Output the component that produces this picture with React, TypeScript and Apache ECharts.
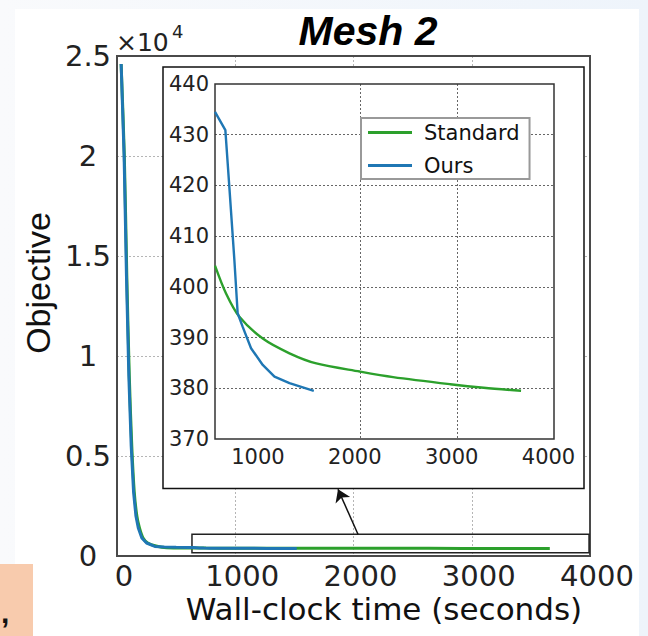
import React, { useEffect, useRef } from 'react';
import * as echarts from 'echarts';

// ---- data ----
const mainXTicks = [0, 1000, 2000, 3000, 4000];
const mainYTickLabels: Record<number, string> = { 0: '0', 5000: '0.5', 10000: '1', 15000: '1.5', 20000: '2', 25000: '2.5' };
const insetXTicks = [1000, 2000, 3000, 4000];
const insetYTicks = [370, 380, 390, 400, 410, 420, 430, 440];

const stdEarly = [[35, 24600], [62, 20000], [83, 14000], [104, 9000], [125, 5500], [146, 3200], [168, 2000], [190, 1400], [220, 900], [260, 650], [330, 500], [420, 412]];
const stdTail = [[500, 404.2], [614, 398.7], [752, 394.1], [993, 389.8], [1269, 386.9], [1546, 384.9], [1994, 383.3], [2339, 382.2], [2929, 380.8], [3274, 380.1], [3660, 379.5]];
const oursEarly = [[35, 24600], [60, 20000], [80, 14000], [100, 9000], [120, 5500], [140, 3200], [160, 2000], [180, 1400], [210, 900], [250, 650], [320, 480], [400, 450]];
const oursTail = [[500, 434.5], [607, 430.9], [648, 419.7], [700, 405.3], [734, 394.8], [786, 392.1], [872, 387.9], [993, 384.6], [1114, 382.3], [1269, 381.0], [1520, 379.5]];

const zoomBox = [[634, 1085], [3992, 160]];
const arrowLine = [[2038, 1085], [1869, 3335]];

const GREEN = '#2ca02c';
const BLUE = '#1f77b4';
const FONT = "'DejaVu Sans'";

export default function App() {
  const ref = useRef<HTMLDivElement>(null);
  useEffect(() => {
    const chart = echarts.init(ref.current!, null, { renderer: 'svg' });
    const stdAll = stdEarly.concat(stdTail);
    const oursAll = oursEarly.concat(oursTail);
    const option: any = {
      animation: false,
      grid: [
        { left: 117, top: 56, width: 473, height: 500, show: true, borderColor: '#4a4a4a', borderWidth: 2, backgroundColor: 'transparent', z: 1 },
        { left: 215, top: 84, width: 339, height: 355, show: true, borderColor: '#333', borderWidth: 1.5, backgroundColor: 'transparent', z: 6 },
      ],
      xAxis: [
        {
          gridIndex: 0, type: 'value', min: 0, max: 4000, interval: 1000, z: 0,
          axisLine: { show: false }, axisTick: { show: false },
          splitLine: { show: true, showMinLine: false, showMaxLine: false, lineStyle: { color: '#b5b5b5', type: [2, 2], width: 1 } },
          axisLabel: {
            fontFamily: FONT, fontSize: 29, color: '#222', margin: 5, padding: [0, 0, 0, 14],
            formatter: (v: number) => (mainXTicks.includes(v) ? String(v) : ''),
          },
        },
        {
          gridIndex: 1, type: 'value', min: 500, max: 4000, z: 5,
          axisLine: { show: false },
          axisTick: { show: false, customValues: insetXTicks },
          splitLine: { show: true, showMinLine: false, showMaxLine: false, lineStyle: { color: '#666', type: [2, 2], width: 1 } },
          axisLabel: {
            customValues: insetXTicks, fontFamily: FONT, fontSize: 21, color: '#222', margin: 7, padding: [0, 11, 0, 0],
            formatter: (v: number) => String(v),
          },
        },
      ],
      yAxis: [
        {
          gridIndex: 0, type: 'value', min: 0, max: 25000, interval: 5000, z: 0,
          axisLine: { show: false }, axisTick: { show: false },
          splitLine: { show: true, showMinLine: false, showMaxLine: false, lineStyle: { color: '#b5b5b5', type: [2, 2], width: 1 } },
          axisLabel: {
            fontFamily: FONT, fontSize: 29, color: '#222', margin: 29, align: 'center',
            formatter: (v: number) => mainYTickLabels[v] ?? '',
          },
        },
        {
          gridIndex: 1, type: 'value', min: 370, max: 440, interval: 10, z: 5,
          axisLine: { show: false }, axisTick: { show: false },
          splitLine: { show: true, showMinLine: false, showMaxLine: false, lineStyle: { color: '#666', type: [2, 2], width: 1 } },
          axisLabel: {
            fontFamily: FONT, fontSize: 21, color: '#222', margin: 6,
            formatter: (v: number) => (insetYTicks.includes(v) ? String(v) : ''),
          },
        },
      ],
      legend: {
        data: ['Standard', 'Ours'],
        orient: 'vertical', left: 361, top: 118, z: 10,
        padding: [4, 10, 3, 7], itemGap: 12, itemWidth: 44, itemHeight: 3,
        icon: 'rect',
        backgroundColor: '#fff', borderColor: '#999', borderWidth: 2,
        textStyle: { fontFamily: FONT, fontSize: 21, color: '#111', lineHeight: 21, padding: [0, 0, 0, 7] },
      },
      series: [
        {
          name: 'Standard', type: 'line', xAxisIndex: 0, yAxisIndex: 0, data: stdAll,
          showSymbol: false, symbol: 'none', z: 2, smooth: 0.3,
          lineStyle: { color: GREEN, width: 3 }, itemStyle: { color: GREEN },
        },
        {
          name: 'Ours', type: 'line', xAxisIndex: 0, yAxisIndex: 0, data: oursAll,
          showSymbol: false, symbol: 'none', z: 2,
          lineStyle: { color: BLUE, width: 3 }, itemStyle: { color: BLUE },
          markArea: {
            silent: true,
            itemStyle: { color: 'rgba(0,0,0,0)', borderColor: '#222', borderWidth: 1.5 },
            data: [[{ coord: zoomBox[0] }, { coord: zoomBox[1] }]],
          },
          markLine: {
            silent: true, symbol: ['none', 'arrow'], symbolSize: 12,
            lineStyle: { color: '#111', width: 1.5, type: 'solid' },
            label: { show: false },
            data: [[{ coord: arrowLine[0] }, { coord: arrowLine[1] }]],
          },
        },
        {
          name: 'Standard', type: 'line', xAxisIndex: 1, yAxisIndex: 1, data: stdTail,
          showSymbol: false, symbol: 'none', z: 7, clip: true, smooth: 0.3,
          lineStyle: { color: GREEN, width: 2.4 }, itemStyle: { color: GREEN },
        },
        {
          name: 'Ours', type: 'line', xAxisIndex: 1, yAxisIndex: 1, data: oursTail,
          showSymbol: false, symbol: 'none', z: 7, clip: true,
          lineStyle: { color: BLUE, width: 2.4 }, itemStyle: { color: BLUE },
        },
      ],
      graphic: [
        { type: 'rect', z: 3, shape: { x: 163, y: 67, width: 421, height: 421.5 }, style: { fill: '#fff', stroke: '#111', lineWidth: 1.5 } },
        { type: 'text', x: 368, y: 31, style: { text: 'Mesh 2', fontFamily: "'Liberation Sans'", fontWeight: 'bold', fontStyle: 'italic', fontSize: 41, fill: '#000', align: 'center', verticalAlign: 'middle' } },
        { type: 'text', x: 116, y: 42, style: { text: '×10', fontFamily: FONT, fontSize: 25, fill: '#222', align: 'left', verticalAlign: 'middle' } },
        { type: 'text', x: 172, y: 31, style: { text: '4', fontFamily: FONT, fontSize: 18, fill: '#222', align: 'left', verticalAlign: 'middle' } },
        { type: 'text', x: 384, y: 609, style: { text: 'Wall-clock time (seconds)', fontFamily: FONT, fontSize: 31, fill: '#111', align: 'center', verticalAlign: 'middle' } },
        { type: 'text', x: 38, y: 283, rotation: Math.PI / 2, style: { text: 'Objective', fontFamily: "'Liberation Sans'", fontSize: 34, fill: '#111', align: 'center', verticalAlign: 'middle' } },
        { type: 'text', x: 1, y: 612, style: { text: ',', fontFamily: "'Liberation Sans'", fontWeight: 'bold', fontSize: 30, fill: '#111', align: 'left', verticalAlign: 'middle' } },
      ],
    };
    chart.setOption(option);
    return () => chart.dispose();
  }, []);
  return (
    <div style={{ position: 'fixed', left: 0, top: 0, width: 648, height: 636, overflow: 'hidden', background: 'linear-gradient(90deg, #f9fafc, #eef4fb)' }}>
      <div style={{ position: 'absolute', left: 15, top: 9, width: 624, height: 627, background: '#fff' }} />
      <div style={{ position: 'absolute', left: 0, top: 564, width: 33, height: 72, background: '#f8cbad' }} />
      <div ref={ref} style={{ position: 'absolute', left: 0, top: 0, width: 648, height: 636 }} />
    </div>
  );
}
